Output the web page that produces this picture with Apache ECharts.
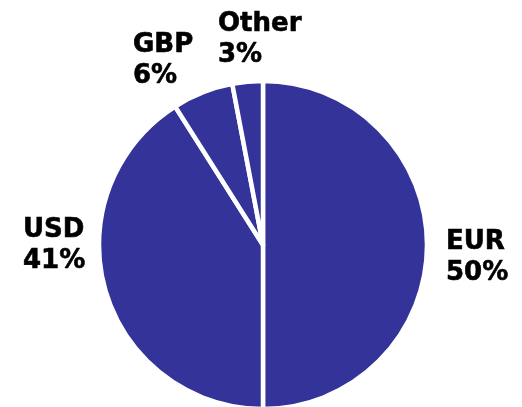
<!DOCTYPE html>
<html>
<head>
<meta charset="utf-8">
<script src="https://cdn.jsdelivr.net/npm/echarts@6/dist/echarts.min.js"></script>
<style>
  html, body { margin: 0; padding: 0; background: #ffffff; }
  #chart { width: 522px; height: 407px; }
</style>
</head>
<body>
<div id="chart"></div>
<script>
// Currency split of the portfolio (percent)
const currencies = ['EUR', 'USD', 'GBP', 'Other'];
const shares = [50, 41, 6, 3];

// Where each label's text block starts (left / top, in px)
const labelSpots = [
  [446, 227],
  [23, 215],
  [133, 30],
  [218, 9]
];

const chart = echarts.init(document.getElementById('chart'), null, { renderer: 'canvas' });

chart.setOption({
  animation: false,
  backgroundColor: '#ffffff',
  series: [{
    type: 'pie',
    center: [263, 245],
    radius: 164,
    startAngle: 90,
    clockwise: true,
    avoidLabelOverlap: false,
    emphasis: { disabled: true },
    itemStyle: {
      color: '#333399',
      borderColor: '#ffffff',
      borderWidth: 4.5
    },
    label: {
      show: true,
      position: 'outside',
      formatter: p => p.name + '\n' + p.value + '%',
      fontFamily: 'DejaVu Sans',
      fontWeight: 'bold',
      fontSize: 26,
      lineHeight: 31,
      color: '#000000',
      textBorderColor: '#000000',
      textBorderWidth: 0.6
    },
    labelLine: { show: false },
    labelLayout: params => {
      const spot = labelSpots[params.dataIndex];
      return { x: spot[0], y: spot[1], align: 'left', verticalAlign: 'top' };
    },
    data: currencies.map((name, i) => ({ name: name, value: shares[i] }))
  }]
});
</script>
</body>
</html>
